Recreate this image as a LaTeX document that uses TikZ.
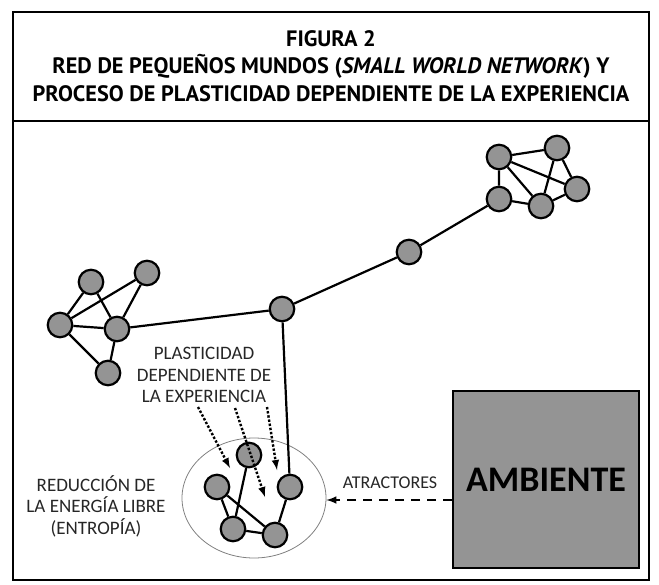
\documentclass[tikz,border=0pt]{standalone}
\usepackage{fontspec}
\setmainfont{Carlito}
\newfontfamily\titulofont{PT Sans}
\tikzset{>=latex}
\usetikzlibrary{positioning,shapes.geometric}
\tikzset{
  neurona/.style={draw, circle, line width=2.2pt, minimum size=24.5pt, inner sep=0pt, fill=black!42},
  enlace/.style={line width=2.2pt},
  plastico/.style={->, line width=2.4pt, dash pattern=on 2.4pt off 1.8pt},
  etiqueta/.style={align=center, font=\fontsize{19}{21.5}\selectfont, text=black!85}
}
\begin{document}
\begin{tikzpicture}[x=1pt, y=-1pt]
      \useasboundingbox (0,0) rectangle (659,584);
      \draw[line width=1.6pt] (13,12) rectangle (649,580);
      \draw[line width=1.6pt] (13,121) -- (649,121);
      \node[align=center, font=\titulofont\bfseries\fontsize{22.3}{27.5}\selectfont] (titulo) at (331,66) {FIGURA 2\\RED DE PEQUEÑOS MUNDOS (\textit{SMALL WORLD NETWORK}) Y\\PROCESO DE PLASTICIDAD DEPENDIENTE DE LA EXPERIENCIA};
      % red de la derecha
      \node[neurona] (d1) at (499,157) {};
      \node[neurona] (d2) at (557,148) {};
      \node[neurona] (d3) at (577,189) {};
      \node[neurona] (d4) at (541,206) {};
      \node[neurona] (d5) at (499,199) {};
      \node[neurona] (m1) at (409,252) {};
      \node[neurona] (hub) at (282,309) {};
      % red de la izquierda
      \node[neurona] (i1) at (91,282) {};
      \node[neurona] (i2) at (147,273) {};
      \node[neurona] (i3) at (60,325) {};
      \node[neurona] (i4) at (117,329) {};
      \node[neurona] (i5) at (108,373) {};
      % red de abajo
      \node[draw, ellipse, gray, line width=0.8pt, minimum width=144pt, minimum height=120pt] (elipse) at (254,498) {};
      \node[neurona] (b1) at (249,455) {};
      \node[neurona] (b2) at (290,487) {};
      \node[neurona] (b3) at (217,487) {};
      \node[neurona] (b4) at (233,529) {};
      \node[neurona] (b5) at (275,535) {};
      \draw[enlace] (d1) -- (d2) (d1) -- (d3) (d1) -- (d4) (d1) -- (d5) (d2) -- (d3) (d2) -- (d4) (d3) -- (d4) (d4) -- (d5);
      \draw[enlace] (d5) -- (m1) -- (hub) -- (i4);
      \draw[enlace] (i1) -- (i3) (i1) -- (i4) (i2) -- (i3) (i2) -- (i4) (i3) -- (i4) (i3) -- (i5) (i4) -- (i5);
      \draw[enlace] (hub) -- (b2);
      \draw[enlace] (b1) -- (b4) (b3) -- (b4) (b3) -- (b5) (b4) -- (b5) (b2) -- (b5);
      % etiquetas
      \node[etiqueta] (plast) at (204,375) {PLASTICIDAD\\DEPENDIENTE DE\\LA EXPERIENCIA};
      \node[etiqueta] (reduccion) at (96,506) {REDUCCIÓN DE\\LA ENERGÍA LIBRE\\(ENTROPÍA)};
      \node[draw, line width=2pt, fill=black!42, minimum width=186pt, minimum height=177pt, font=\bfseries\fontsize{36}{36}\selectfont] (ambiente) at (546,479.5) {AMBIENTE};
      \node[etiqueta, font=\fontsize{18}{20}\selectfont] (atractores) at (390,483) {ATRACTORES};
      \coordinate (f1) at (230,468);
      \coordinate (f2) at (265,497);
      \coordinate (f3) at (277,470);
      \draw[plastico] (198,407) -- (f1);
      \draw[plastico] (235,408) -- (f2);
      \draw[plastico] (267,407) -- (f3);
      \draw[->, line width=2.4pt, dash pattern=on 9pt off 7pt] (ambiente.west |- 0,500) -- (elipse.east |- 0,500);
    \end{tikzpicture}
\end{document}
